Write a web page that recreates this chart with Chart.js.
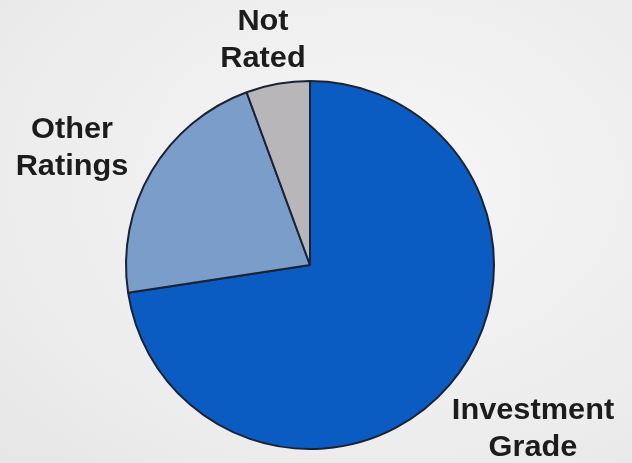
<!DOCTYPE html>
<html>
<head>
<meta charset="utf-8">
<script src="https://cdn.jsdelivr.net/npm/chart.js@4/dist/chart.umd.min.js"></script>
<style>
html,body{margin:0;padding:0;background:#eeeeee;}
#wrap{width:632px;height:463px;position:relative;background:radial-gradient(ellipse at 60% 40%, #f6f6f6 0%, #ececec 70%, #e6e6e6 100%);}
canvas{display:block;}
</style>
</head>
<body>
<div id="wrap"><canvas id="c" width="632" height="463"></canvas></div>
<script>
const categories = ["Investment Grade", "Other Ratings", "Not Rated"];
const shares = [72.6, 21.8, 5.6];
const labelLines = [["Investment", "Grade"], ["Other", "Ratings"], ["Not", "Rated"]];
const colors = ["#0b5cc2", "#7a9dca", "#b8b6b8"];
const labelAnchors = [[533, 419], [72, 138], [263, 30]];

const labelPlugin = {
  id: 'outerLabels',
  afterDraw(chart) {
    const ctx = chart.ctx;
    ctx.save();
    ctx.fillStyle = '#1c1c1c';
    ctx.font = 'bold 29px "Liberation Sans", Arial, sans-serif';
    ctx.textAlign = 'center';
    ctx.textBaseline = 'alphabetic';
    labelLines.forEach((lines, i) => {
      const [x, y] = labelAnchors[i];
      lines.forEach((t, j) => {
        ctx.save();
        ctx.translate(x, y + j * 37);
        ctx.scale(1.06, 1);
        ctx.fillText(t, 0, 0);
        ctx.restore();
      });
    });
    ctx.restore();
  }
};

new Chart(document.getElementById('c'), {
  type: 'pie',
  data: {
    labels: categories,
    datasets: [{
      data: shares,
      backgroundColor: colors,
      borderColor: '#1b2233',
      borderWidth: 2,
      borderAlign: 'center'
    }]
  },
  options: {
    responsive: false,
    animation: false,
    layout: { padding: { top: 80, bottom: 13, left: 100, right: 112 } },
    plugins: { legend: { display: false }, tooltip: { enabled: false } }
  },
  plugins: [labelPlugin]
});
</script>
</body>
</html>
